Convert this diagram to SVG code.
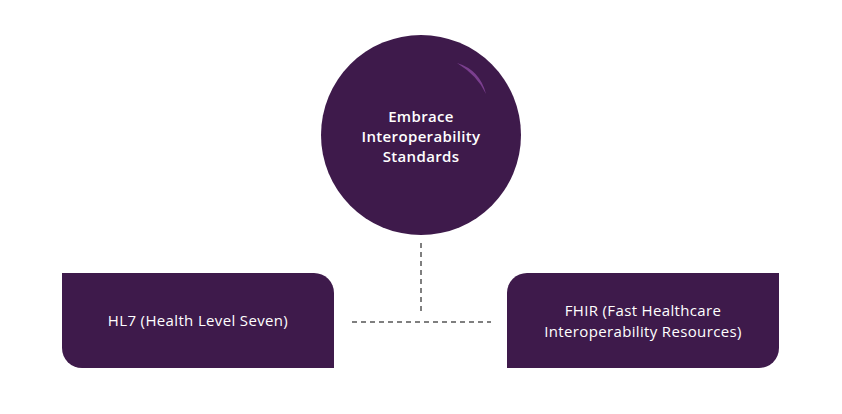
<svg xmlns="http://www.w3.org/2000/svg" width="842" height="414" viewBox="0 0 842 414">
<style>
.n{fill:#3e1a4b}
.t{fill:#ffffff;font-family:"Open Sans","Liberation Sans",sans-serif;font-size:15px;letter-spacing:0.35px;text-anchor:middle}
.b{font-weight:600}
.c{stroke:#555;stroke-width:1.5;stroke-dasharray:5 4;fill:none}
</style>
<rect width="842" height="414" fill="#ffffff"/>
<g id="connectors">
<line class="c" x1="421" y1="243" x2="421" y2="314"/>
<line class="c" x1="352" y1="322" x2="491" y2="322"/>
</g>
<g id="center">
<circle class="n" cx="421" cy="135" r="100"/>
<path d="M457,63 Q480,70 486,94 Q478,76 457,63 Z" fill="#7b3f8f"/>
<text class="t b" x="421" y="122">Embrace</text>
<text class="t b" x="421" y="142">Interoperability</text>
<text class="t b" x="421" y="162">Standards</text>
</g>
<g id="hl7">
<path class="n" d="M62,273 H314 A20,20 0 0 1 334,293 V368 H82 A20,20 0 0 1 62,348 Z"/>
<text class="t" x="198" y="326">HL7 (Health Level Seven)</text>
</g>
<g id="fhir">
<path class="n" d="M527,273 H779 V348 A20,20 0 0 1 759,368 H507 V293 A20,20 0 0 1 527,273 Z"/>
<text class="t" x="643" y="316">FHIR (Fast Healthcare</text>
<text class="t" x="643" y="337">Interoperability Resources)</text>
</g>
</svg>
